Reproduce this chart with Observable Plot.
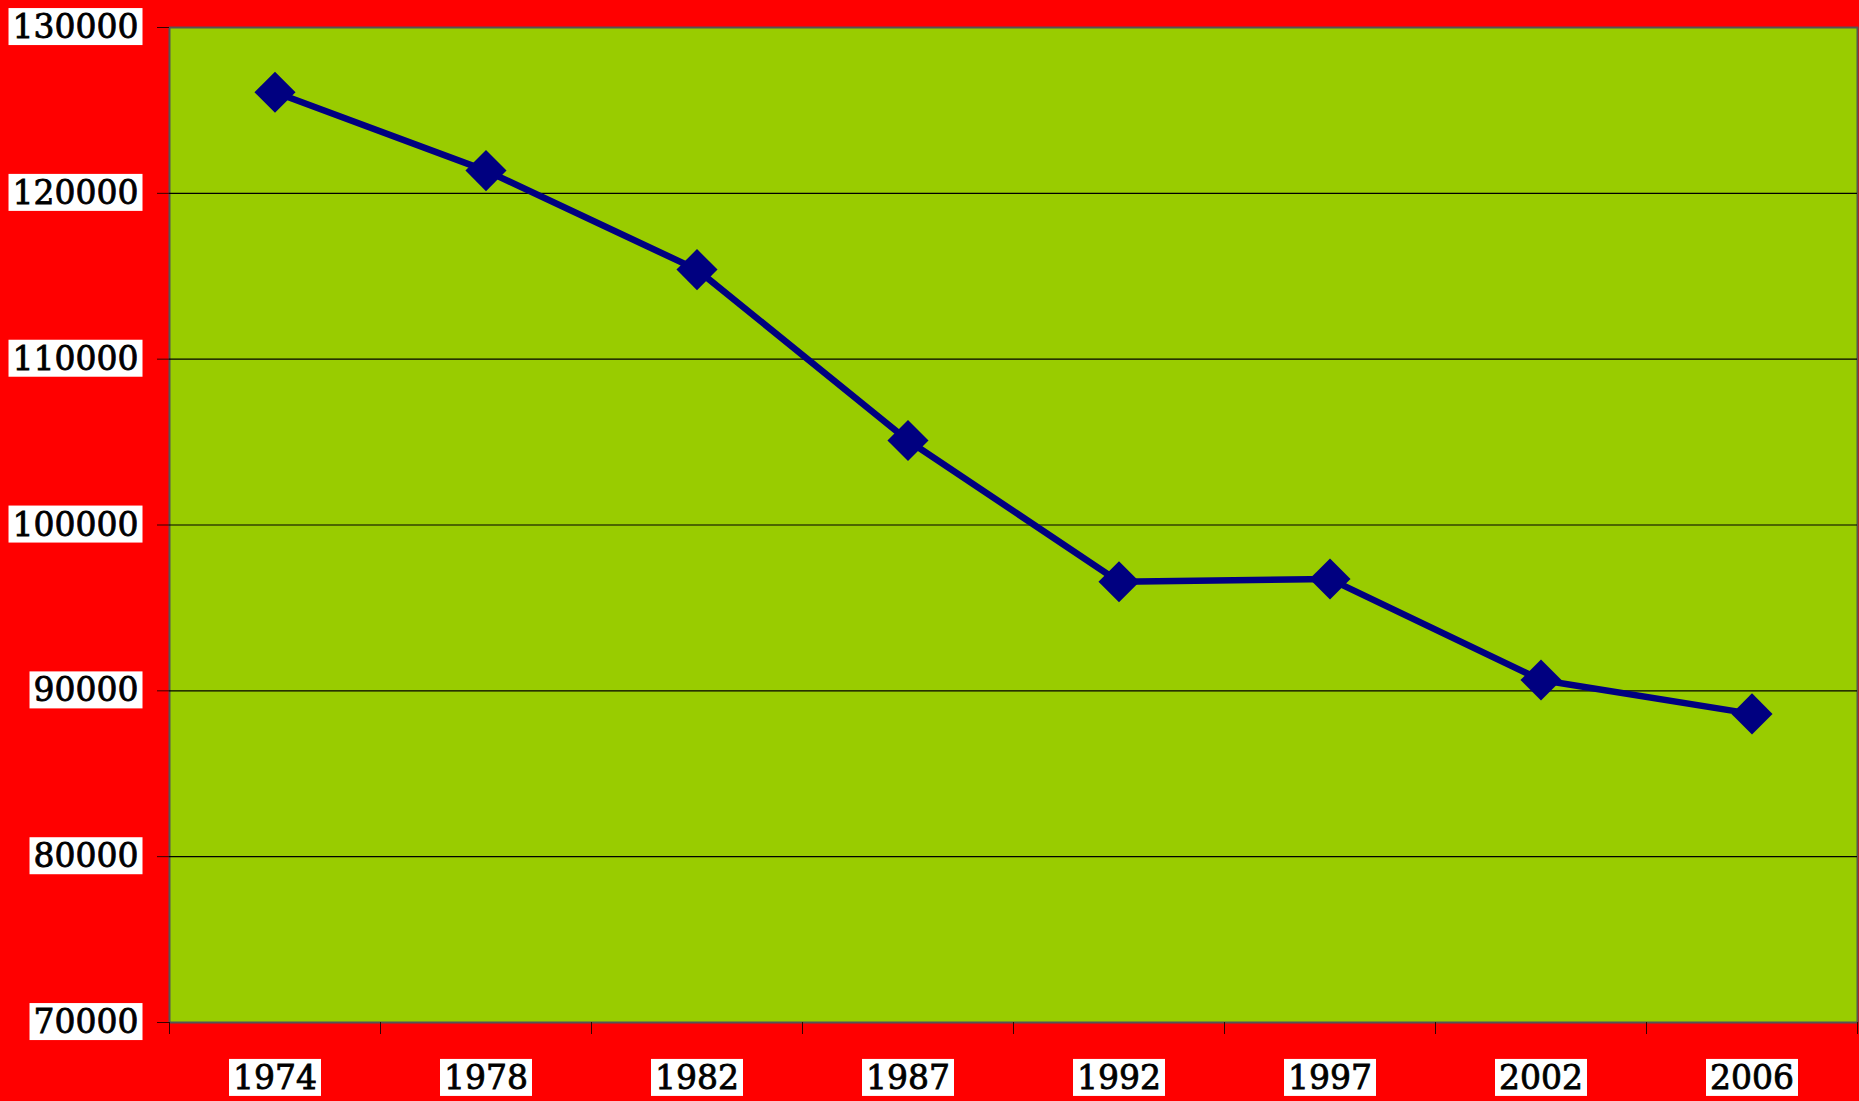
<!DOCTYPE html>
<html>
<head>
<meta charset="utf-8">
<script src="https://cdn.jsdelivr.net/npm/d3@7"></script>
<script src="https://cdn.jsdelivr.net/npm/@observablehq/plot@0.6"></script>
<style>
  html, body { margin: 0; padding: 0; background: #ff0000; overflow: hidden; }
  #chart svg { display: block; background: #ff0000; }
</style>
</head>
<body>
<div id="chart"></div>
<script>
const years = ["1974", "1978", "1982", "1987", "1992", "1997", "2002", "2006"];
const values = [126100, 121370, 115400, 105100, 96580, 96740, 90650, 88610];
const yTicks = [70000, 80000, 90000, 100000, 110000, 120000, 130000];

const data = years.map((y, i) => ({i, year: y, value: values[i]}));
const boundaries = d3.range(years.length + 1).map(k => k - 0.5);

const plot = Plot.plot({
  width: 1859,
  height: 1101,
  marginLeft: 169,
  marginRight: 2,
  marginTop: 27,
  marginBottom: 79,
  style: {fontFamily: "'DejaVu Serif', serif", fontSize: "33px", background: "#ff0000", color: "black"},
  x: {domain: [-0.5, years.length - 0.5]},
  y: {domain: [70000, 130000]},
  marks: [
    Plot.frame({fill: "#99cc00", stroke: "#555555", strokeWidth: 2}),
    Plot.gridY(yTicks.slice(1, -1), {stroke: "black", strokeOpacity: 1, strokeWidth: 1.2}),
    Plot.axisY(yTicks, {tickSize: 12, tickPadding: 19, tickFormat: d => String(d), stroke: "#330000", label: null}),
    Plot.axisX(boundaries, {tickSize: 12, tickFormat: () => "", stroke: "#330000", label: null}),
    Plot.axisX(data.map(d => d.i), {tickSize: 0, tickPadding: 43, tickFormat: i => years[i], label: null}),
    Plot.line(data, {x: "i", y: "value", stroke: "#000080", strokeWidth: 6.5}),
    Plot.dot(data, {x: "i", y: "value", symbol: "diamond2", r: 18.5, fill: "#000080", stroke: "none"})
  ]
});
document.getElementById("chart").appendChild(plot);

// white boxes behind tick labels
plot.querySelectorAll('g[aria-label="y-axis tick label"] text, g[aria-label="x-axis tick label"] text').forEach(t => {
  if (!t.textContent) return;
  t.setAttribute("stroke", "black");
  t.setAttribute("stroke-width", "0.8");
  const b = t.getBBox();
  const r = document.createElementNS("http://www.w3.org/2000/svg", "rect");
  r.setAttribute("x", b.x - 4);
  r.setAttribute("y", b.y + 1);
  r.setAttribute("width", b.width + 8);
  r.setAttribute("height", b.height - 2);
  r.setAttribute("fill", "white");
  r.setAttribute("stroke", "none");
  if (t.getAttribute("transform")) r.setAttribute("transform", t.getAttribute("transform"));
  t.parentNode.insertBefore(r, t);
});
</script>
</body>
</html>
